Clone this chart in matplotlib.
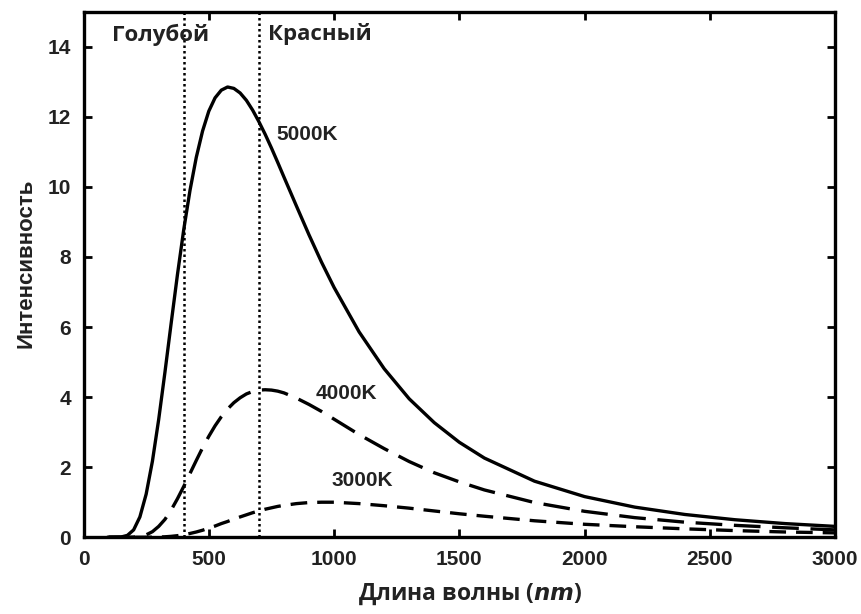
import matplotlib.pyplot as plt

# wavelength grid (nm) and intensities
wavelength = [100, 150, 175, 200, 225, 250, 275, 300, 325, 350, 375, 400, 425, 450, 475,
              500, 525, 550, 575, 600, 625, 650, 675, 700, 725, 750, 775, 800, 850, 900,
              950, 1000, 1100, 1200, 1300, 1400, 1500, 1600, 1800, 2000, 2200, 2400,
              2600, 2800, 3000]
i_5000 = [0.0, 0.007, 0.053, 0.21, 0.58, 1.23, 2.17, 3.36, 4.71, 6.12, 7.50, 8.78, 9.90,
          10.84, 11.59, 12.16, 12.54, 12.76, 12.85, 12.81, 12.68, 12.47, 12.19, 11.86,
          11.50, 11.11, 10.70, 10.28, 9.45, 8.63, 7.85, 7.13, 5.86, 4.81, 3.95, 3.27,
          2.71, 2.26, 1.60, 1.16, 0.86, 0.65, 0.50, 0.39, 0.31]
i_4000 = [0.0, 0.0, 0.001, 0.006, 0.024, 0.069, 0.159, 0.31, 0.51, 0.78, 1.10, 1.45,
          1.82, 2.19, 2.55, 2.88, 3.18, 3.44, 3.66, 3.84, 3.98, 4.09, 4.16, 4.20, 4.21,
          4.20, 4.17, 4.12, 3.97, 3.79, 3.59, 3.37, 2.93, 2.53, 2.16, 1.84, 1.58, 1.35,
          0.99, 0.74, 0.56, 0.43, 0.34, 0.27, 0.21]
i_3000 = [0.0, 0.0, 0.0, 0.0, 0.0, 0.001, 0.002, 0.006, 0.013, 0.026, 0.045, 0.073,
          0.108, 0.15, 0.20, 0.26, 0.32, 0.39, 0.45, 0.52, 0.58, 0.64, 0.70, 0.75, 0.80,
          0.84, 0.88, 0.91, 0.96, 0.99, 1.00, 1.00, 0.96, 0.90, 0.83, 0.75, 0.67, 0.60,
          0.47, 0.37, 0.30, 0.24, 0.19, 0.15, 0.125]

band_edges = [400, 700]
band_names = ["Голубой", "Красный"]
curve_names = ["5000K", "4000K", "3000K"]

fig, ax = plt.subplots(figsize=(8.61, 6.14), dpi=100)
fig.subplots_adjust(left=0.097, right=0.97, top=0.981, bottom=0.125)

ax.plot(wavelength, i_5000, color="black", lw=2.4, ls="-")
ax.plot(wavelength, i_4000, color="black", lw=2.4, ls=(0, (8, 3.5)))
ax.plot(wavelength, i_3000, color="black", lw=2.4, ls=(0, (5, 3)))

for x in band_edges:
    ax.axvline(x, color="black", lw=1.8, ls=(0, (1, 1.2)))

hum = "Open Sans"
arial = "Liberation Sans"
ink = "#222222"
ax.text(112, 14.35, band_names[0], fontsize=16, fontweight="bold", family=hum,
        color=ink, va="center", ha="left")
ax.text(736, 14.35, band_names[1], fontsize=16, fontweight="bold", family=hum,
        color=ink, va="center", ha="left")

lab = dict(fontsize=15, fontweight="bold", family=arial, color=ink,
           va="center", ha="left")
ax.text(770, 11.5, curve_names[0], **lab)
ax.text(925, 4.1, curve_names[1], **lab)
ax.text(990, 1.63, curve_names[2], **lab)

ax.set_xlim(0, 3000)
ax.set_ylim(0, 15)
ax.set_xticks(range(0, 3001, 500))
ax.set_yticks(range(0, 15, 2))
ax.tick_params(direction="in", length=6, width=2, top=True, right=True,
               labelsize=15, pad=9, colors="black")
for t in ax.get_xticklabels() + ax.get_yticklabels():
    t.set_fontweight("bold")
    t.set_family(arial)
    t.set_color(ink)
for s in ax.spines.values():
    s.set_linewidth(2.4)

ax.set_xlabel("Длина волны ($\\mathbfit{nm}$)", fontsize=16.5, fontweight="bold",
              family=hum, color=ink, labelpad=12)
ax.xaxis.set_label_coords(0.514, -0.085)
ax.set_ylabel("Интенсивность", fontsize=16, fontweight="bold", family=arial,
              color=ink)
ax.yaxis.set_label_coords(-0.063, 0.522)

fig.savefig("out.png", dpi=100)
